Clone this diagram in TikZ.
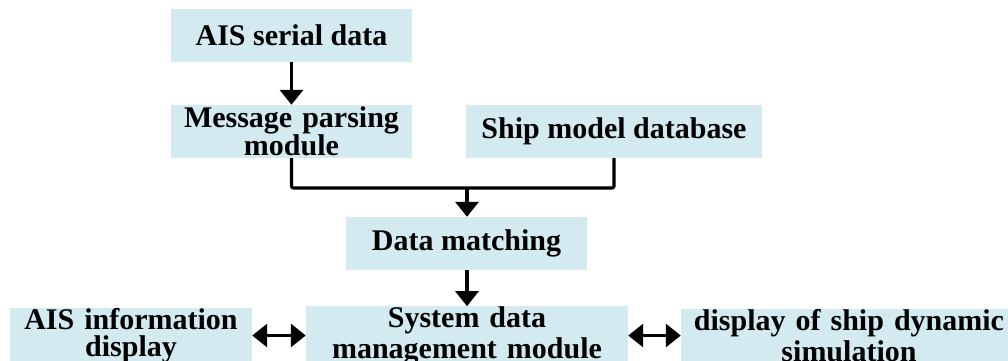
\documentclass[tikz,border=0pt]{standalone}
\usepackage{fontspec}
\setmainfont{Liberation Serif}
\usetikzlibrary{arrows.meta}
\definecolor{boxfill}{RGB}{210,234,240}
\tikzset{
  blk/.style={fill=boxfill, draw=none, inner sep=0pt, minimum height=53pt, align=center,
    font=\fontsize{30}{25}\selectfont\bfseries},
  conn/.style={line width=3.2pt, line join=round},
  tip/.style={-{Triangle[length=15pt,width=23pt]}},
  dtip/.style={{Triangle[length=15pt,width=23pt]}-{Triangle[length=15pt,width=23pt]}}
}
\begin{document}
\begin{tikzpicture}[x=1pt,y=-1pt]
\useasboundingbox (0,0) rectangle (1008,360);
\node[blk, minimum width=241pt] (ais) at (291.5,35.5) {AIS serial data};
\node[blk, minimum width=241pt, text width=241pt] (msg) at (291.5,131.5) {Message parsing\\module};
\node[blk, minimum width=296pt] (ship) at (614,131.5) {Ship model database};
\node[blk, minimum width=241pt] (match) at (466.5,243.5) {Data matching};
\node[blk, minimum width=242pt, text width=242pt] (aisd) at (131,335.5) {AIS information\\[2.5pt]display};
\node[blk, minimum width=322pt, text width=322pt] (sys) at (467,335.5) {System data\\[2.5pt]management module};
\node[blk, minimum width=336pt, text width=336pt] (dyn) at (849,335.5) {display of ship dynamic\\[2.5pt]simulation};
\coordinate (j) at (467,188);
\draw[conn, tip] (ais.south) -- (msg.north);
\draw[conn, rounded corners=2pt] (msg.south) |- (j) -| (ship.south);
\draw[conn, tip] (j) -- (match.north -| j);
\draw[conn, tip] (match.south -| sys.north) -- (sys.north);
\draw[conn, dtip] (aisd.east) -- (sys.west);
\draw[conn, dtip] (sys.east) -- (dyn.west);
\end{tikzpicture}
\end{document}
